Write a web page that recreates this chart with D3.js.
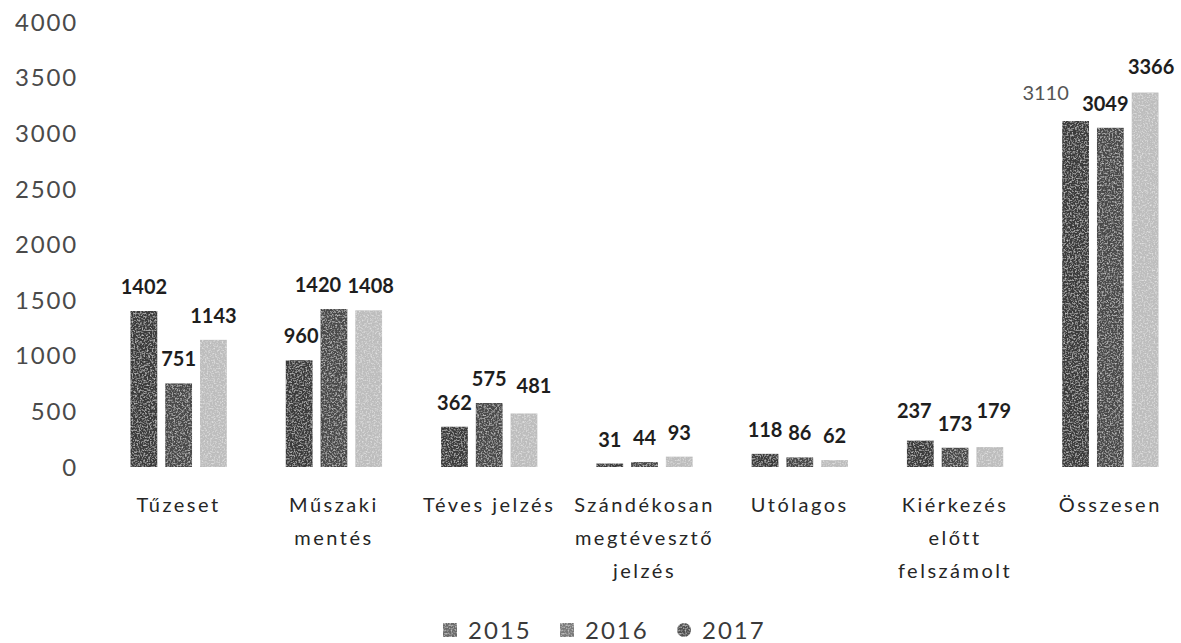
<!DOCTYPE html>
<html>
<head>
<meta charset="utf-8">
<script src="https://cdn.jsdelivr.net/npm/d3@7"></script>
<style>
  html, body { margin: 0; padding: 0; background: #fff; }
  svg { display: block; }
</style>
</head>
<body>
<svg id="chart" width="1181" height="643"></svg>
<script>
// Kategóriák (sortörésekkel) és évenkénti vonulásszámok
const categories = ["Tűzeset", "Műszaki mentés", "Téves jelzés", "Szándékosan megtévesztő jelzés", "Utólagos", "Kiérkezés előtt felszámolt", "Összesen"];
const categoryLines = [["Tűzeset"], ["Műszaki", "mentés"], ["Téves jelzés"], ["Szándékosan", "megtévesztő", "jelzés"], ["Utólagos"], ["Kiérkezés", "előtt", "felszámolt"], ["Összesen"]];
const years = ["2015", "2016", "2017"];
const values2015 = [1402, 960, 362, 31, 118, 237, 3110];
const values2016 = [751, 1420, 575, 44, 86, 173, 3049];
const values2017 = [1143, 1408, 481, 93, 62, 179, 3366];
const yTicks = [0, 500, 1000, 1500, 2000, 2500, 3000, 3500, 4000];

const series = [values2015, values2016, values2017];
const colors = { "2015": "#3a3a3a", "2016": "#484848", "2017": "#bdbdbd" };
const legendColors = { "2015": "#6a6a6a", "2016": "#7a7a7a", "2017": "#505050" };

// Kézzel elhúzott adatfeliratok: [vízszintes, függőleges] eltolás
const labelNudge = {
  "1-0": [2, 0], "1-1": [-16, 0], "1-2": [2, 0],
  "2-2": [10, -3],
  "5-0": [-6, -6], "5-2": [4, -12],
  "6-0": [-30, -4], "6-1": [-5, 0], "6-2": [6, -2]
};
const nudge = d => labelNudge[`${d.i}-${d.j}`] || [0, 0];

const svg = d3.select("#chart");

// Szemcsés kitöltés az oszlopokhoz
const defs = svg.append("defs");
const grain = defs.append("filter").attr("id", "grain")
  .attr("x", -0.05).attr("y", 0).attr("width", 1.1).attr("height", 1);
grain.append("feTurbulence").attr("type", "fractalNoise")
  .attr("baseFrequency", 0.6).attr("numOctaves", 2).attr("seed", 5).attr("result", "noise");
grain.append("feColorMatrix").attr("in", "noise").attr("type", "matrix")
  .attr("values", "0 0 0 0 1  0 0 0 0 1  0 0 0 0 1  1.3 0 0 0 -0.6").attr("result", "dots");
grain.append("feComposite").attr("in", "dots").attr("in2", "SourceGraphic").attr("operator", "in").attr("result", "dotsIn");
grain.append("feMerge").selectAll("feMergeNode")
  .data(["SourceGraphic", "dotsIn"]).join("feMergeNode").attr("in", d => d);
grain.append("feGaussianBlur").attr("stdDeviation", 0.6);

const y = d3.scaleLinear().domain([0, 4000]).range([467, 22]);
const x0 = d3.scaleBand().domain(categories).range([101, 1188])
  .paddingInner(0.38).paddingOuter(0.19);
const x1 = d3.scaleBand().domain(years).range([0, x0.bandwidth()])
  .paddingInner(0.23).paddingOuter(0);

// Y tengely: csak feliratok, vonalak nélkül
const yAxis = svg.append("g")
  .attr("transform", "translate(78,0)")
  .call(d3.axisLeft(y).tickValues(yTicks).tickSize(0).tickPadding(0).tickFormat(d3.format("d")));
yAxis.select(".domain").remove();
yAxis.selectAll("text")
  .attr("fill", "#4a4a4a")
  .style("font-family", "Lato, 'Open Sans', sans-serif")
  .style("font-size", "24px")
  .style("letter-spacing", "1.8px")
  .attr("dy", "0.34em");

// Oszlopok
const groups = svg.append("g").selectAll("g")
  .data(categories)
  .join("g")
  .attr("transform", d => `translate(${x0(d)},0)`);

groups.selectAll("rect")
  .data((c, i) => years.map((yr, j) => ({ yr, v: series[j][i], i, j })))
  .join("rect")
  .attr("x", d => x1(d.yr))
  .attr("width", x1.bandwidth())
  .attr("y", d => y(d.v))
  .attr("height", d => Math.max(2, y(0) - y(d.v)))
  .attr("fill", d => colors[d.yr])
  .attr("filter", "url(#grain)");

// Adatfeliratok
groups.selectAll("text.val")
  .data((c, i) => years.map((yr, j) => ({ yr, v: series[j][i], i, j })))
  .join("text")
  .attr("class", "val")
  .attr("x", d => x1(d.yr) + x1.bandwidth() / 2 + nudge(d)[0])
  .attr("y", d => y(d.v) - 17 + nudge(d)[1])
  .attr("text-anchor", "middle")
  .attr("fill", d => (d.i === 6 && d.j === 0) ? "#555" : "#1e1e1e")
  .style("font-family", "Lato, 'Open Sans', sans-serif")
  .style("font-weight", d => (d.i === 6 && d.j === 0) ? "400" : "700")
  .style("font-size", "20px")
  .text(d => d.v);

// Kategóriafeliratok a tengely alatt
const catLabels = svg.append("g").selectAll("text")
  .data(categories)
  .join("text")
  .attr("x", d => x0(d) + x0.bandwidth() / 2)
  .attr("y", 512)
  .attr("text-anchor", "middle")
  .attr("fill", "#262626")
  .style("font-family", "Lato, 'Open Sans', sans-serif")
  .style("font-size", "20px")
  .style("letter-spacing", "2.5px");
catLabels.selectAll("tspan")
  .data((d, i) => categoryLines[i])
  .join("tspan")
  .attr("x", function () { return d3.select(this.parentNode).attr("x"); })
  .attr("dy", (d, k) => k === 0 ? 0 : 33)
  .text(d => d);

// Jelmagyarázat
const legendX = [443, 560, 677];
const legend = svg.append("g").selectAll("g")
  .data(years)
  .join("g")
  .attr("transform", (d, i) => `translate(${legendX[i]},630)`);
legend.append("rect")
  .attr("x", 0).attr("y", -7).attr("width", 14).attr("height", 14)
  .attr("rx", (d, i) => i === 2 ? 7 : 1)
  .attr("fill", d => legendColors[d])
  .attr("filter", "url(#grain)");
legend.append("text")
  .attr("x", 25).attr("y", 0).attr("dy", "0.36em")
  .attr("fill", "#3a3a3a")
  .style("font-family", "Lato, 'Open Sans', sans-serif")
  .style("font-size", "24px")
  .style("letter-spacing", "2px")
  .text(d => d);
</script>
</body>
</html>
